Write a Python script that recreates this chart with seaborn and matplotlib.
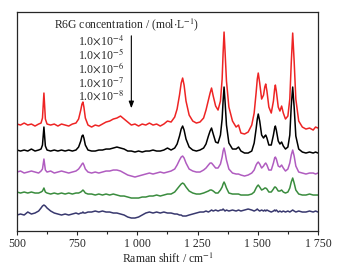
import pandas as pd
import matplotlib
matplotlib.use("Agg")
import matplotlib.pyplot as plt
import seaborn as sns

# Raman shift grid (cm^-1), shared by all spectra
shift = [500, 515, 530, 545, 560, 575, 590, 600, 606, 612,
         618, 625, 640, 655, 670, 685, 700, 715, 730, 745,
         756, 765, 770, 774, 778, 784, 795, 810, 825, 840,
         855, 870, 885, 900, 915, 930, 945, 960, 975, 990,
         1005, 1020, 1035, 1050, 1065, 1080, 1095, 1110, 1125, 1140,
         1155, 1165, 1175, 1182, 1188, 1194, 1202, 1215, 1230, 1245,
         1260, 1275, 1285, 1295, 1302, 1308, 1315, 1325, 1335, 1345,
         1352, 1356, 1360, 1364, 1370, 1380, 1395, 1410, 1420, 1430,
         1445, 1460, 1475, 1485, 1493, 1498, 1502, 1508, 1516, 1524,
         1529, 1533, 1538, 1546, 1556, 1565, 1570, 1573, 1577, 1585,
         1592, 1599, 1606, 1615, 1625, 1633, 1639, 1645, 1651, 1658,
         1670, 1685, 1700, 1715, 1730, 1740, 1750]

# intensities (a.u., offset stacked)
c_1e4 = [107, 106, 108, 106, 107, 105, 107, 108, 113, 138,
         112, 107, 106, 107, 105, 107, 106, 105, 107, 108,
         112, 121, 127, 129, 124, 113, 106, 104, 106, 105,
         107, 109, 110, 112, 113, 115, 112, 109, 106, 107,
         105, 107, 106, 108, 106, 107, 105, 107, 110, 109,
         114, 122, 136, 148, 153, 146, 130, 116, 110, 108,
         109, 113, 121, 131, 138, 143, 135, 125, 121, 130,
         152, 178, 199, 180, 150, 124, 110, 104, 106, 98,
         97, 99, 106, 118, 138, 152, 158, 148, 132, 136,
         144, 147, 140, 124, 118, 130, 142, 146, 140, 124,
         120, 125, 118, 112, 115, 132, 168, 198, 170, 132,
         110, 104, 102, 103, 101, 104, 103]
c_1e5 = [81, 80, 81, 80, 82, 80, 81, 82, 86, 104,
         85, 81, 80, 81, 80, 81, 80, 81, 80, 81,
         84, 90, 95, 96, 93, 86, 81, 80, 80, 81,
         81, 82, 82, 83, 84, 83, 82, 80, 80, 79,
         80, 79, 80, 80, 81, 80, 80, 81, 83, 81,
         83, 87, 95, 102, 105, 101, 92, 84, 81, 80,
         81, 83, 87, 95, 100, 103, 97, 89, 88, 96,
         112, 130, 144, 130, 106, 88, 82, 82, 84, 80,
         78, 78, 80, 88, 102, 112, 117, 110, 96, 93,
         95, 96, 93, 86, 86, 96, 103, 105, 101, 90,
         87, 89, 85, 82, 84, 96, 125, 144, 124, 95,
         82, 79, 78, 79, 78, 79, 78]
c_1e6 = [59, 60, 58, 59, 60, 59, 58, 60, 62, 72,
         61, 59, 60, 58, 59, 60, 59, 58, 59, 60,
         62, 65, 67, 68, 66, 62, 59, 58, 59, 58,
         59, 60, 60, 61, 61, 60, 58, 56, 55, 54,
         55, 56, 57, 58, 57, 58, 59, 58, 59, 60,
         62, 66, 71, 74, 75, 73, 68, 62, 60, 59,
         59, 61, 63, 66, 68, 68, 66, 63, 63, 67,
         74, 80, 83, 79, 71, 62, 58, 57, 57, 56,
         55, 56, 58, 61, 66, 68, 69, 67, 63, 65,
         67, 68, 66, 61, 61, 68, 73, 74, 72, 65,
         64, 66, 63, 60, 62, 68, 76, 81, 75, 65,
         59, 58, 57, 58, 58, 57, 58]
c_1e7 = [39, 38, 39, 38, 39, 38, 38, 39, 40, 43,
         39, 38, 37, 38, 37, 38, 37, 38, 37, 38,
         38, 39, 40, 41, 40, 38, 37, 37, 36, 37,
         36, 37, 36, 37, 36, 35, 35, 34, 33, 33,
         33, 34, 34, 35, 35, 36, 35, 36, 37, 37,
         39, 42, 45, 47, 48, 47, 44, 40, 38, 37,
         37, 38, 39, 40, 41, 41, 40, 38, 38, 41,
         44, 47, 49, 47, 43, 38, 37, 37, 37, 36,
         36, 36, 37, 39, 43, 45, 46, 44, 41, 42,
         43, 43, 42, 39, 39, 42, 44, 44, 43, 40,
         40, 41, 39, 38, 39, 43, 49, 53, 48, 41,
         37, 36, 36, 37, 36, 36, 36]
c_1e8 = [16, 17, 16, 19, 17, 18, 20, 23, 25, 26,
         25, 23, 20, 18, 17, 16, 17, 16, 17, 18,
         17, 18, 18, 19, 18, 18, 19, 19, 20, 19,
         20, 19, 19, 18, 18, 17, 16, 14, 13, 13,
         14, 16, 18, 19, 18, 19, 18, 19, 18, 18,
         17, 17, 16, 16, 15, 15, 15, 16, 17, 18,
         19, 19, 20, 19, 20, 21, 20, 21, 20, 21,
         21, 22, 21, 20, 21, 20, 21, 20, 21, 20,
         21, 22, 21, 20, 21, 22, 21, 20, 21, 20,
         21, 20, 21, 20, 19, 20, 21, 20, 21, 19,
         20, 19, 20, 19, 20, 19, 20, 21, 20, 19,
         20, 19, 19, 20, 19, 20, 19]

series = [c_1e4, c_1e5, c_1e6, c_1e7, c_1e8]
colors = ["#ee2424", "#000000", "#b05cc0", "#3a8c3e", "#38386e"]
conc_labels = ["1.0$\\times$10$^{-4}$", "1.0$\\times$10$^{-5}$", "1.0$\\times$10$^{-6}$",
               "1.0$\\times$10$^{-7}$", "1.0$\\times$10$^{-8}$"]
xticks = [500, 750, 1000, 1250, 1500, 1750]
xtick_labels = ["500", "750", "1 000", "1 250", "1 500", "1 750"]

sns.set_style("ticks")
plt.rcParams["font.family"] = ["Liberation Serif", "DejaVu Serif"]
plt.rcParams["mathtext.fontset"] = "stix"

fig = plt.figure(figsize=(3.39, 2.68), dpi=100)
ax = fig.add_axes([0.050, 0.138, 0.888, 0.817])

for vals, col in zip(series, colors):
    df = pd.DataFrame({"shift": shift, "intensity": vals})
    sns.lineplot(data=df, x="shift", y="intensity", color=col, linewidth=1.1, ax=ax)

ax.set_xlim(500, 1750)
ax.set_ylim(0, 219)
ax.set_yticks([])
ax.set_ylabel("")
ax.set_xticks(xticks)
ax.set_xticklabels(xtick_labels, fontsize=8.5)
ax.set_xticks([625, 875, 1125, 1375, 1625], minor=True)
ax.tick_params(axis="x", which="major", direction="out", length=3, width=0.8, pad=2)
ax.tick_params(axis="x", which="minor", direction="out", length=2, width=0.8)
ax.set_xlabel("Raman shift / cm$^{-1}$", fontsize=8.5, labelpad=1)
for s in ax.spines.values():
    s.set_linewidth(0.9)
    s.set_visible(True)

ax.text(654, 206, "R6G concentration / (mol$\\cdot$L$^{-1}$)", fontsize=8.4, va="center", ha="left")
for i, lab in enumerate(conc_labels):
    ax.text(753, 190.5 - 13.9 * i, lab, fontsize=8.6, va="center", ha="left")
ax.annotate("", xy=(975, 120), xytext=(975, 198),
            arrowprops=dict(arrowstyle="-|>,head_width=0.15,head_length=0.4", color="black", lw=0.8))

fig.savefig("out.png", dpi=100)
